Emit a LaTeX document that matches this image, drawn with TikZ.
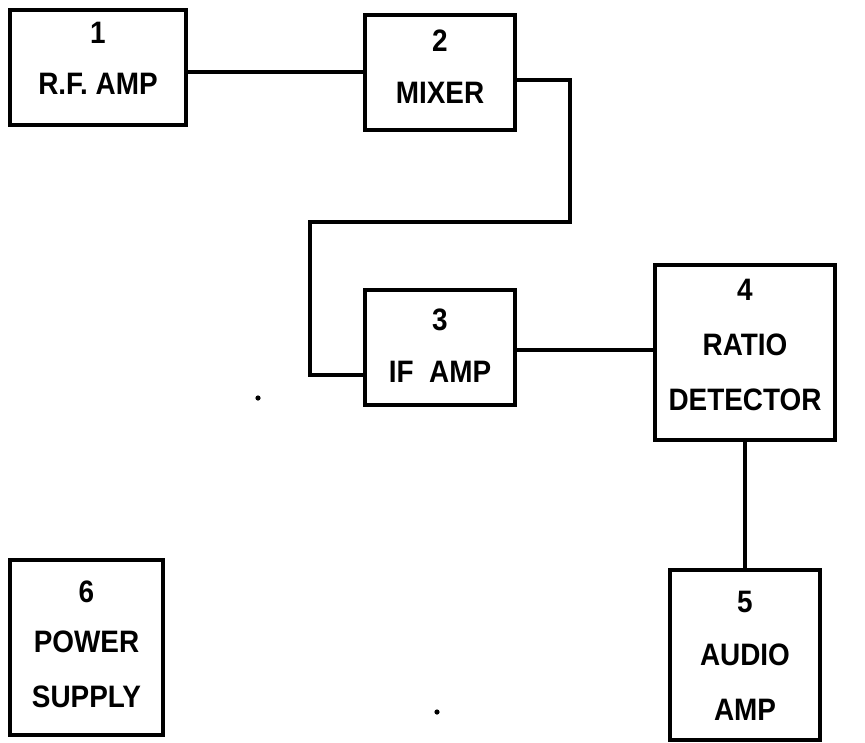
\documentclass[tikz,border=0pt]{standalone}
\usepackage{fontspec}
\setmainfont{Liberation Sans}[FakeStretch=0.9]
\begin{document}
\begin{tikzpicture}[x=1pt,y=-1pt,
  blk/.style={draw, line width=4pt, rectangle, inner sep=0pt},
  lbl/.style={font=\bfseries\fontsize{31}{52}\selectfont, align=center, inner sep=0pt},
  wire/.style={line width=3.6pt}]
\useasboundingbox (0,0) rectangle (865,742);
% boxes
\node[blk, minimum width=176pt, minimum height=115pt] (b1) at (98,67.5) {};
\node[blk, minimum width=150pt, minimum height=115pt] (b2) at (440,72.5) {};
\node[blk, minimum width=150pt, minimum height=115pt] (b3) at (440,347.5) {};
\node[blk, minimum width=180pt, minimum height=175pt] (b4) at (745,352.5) {};
\node[blk, minimum width=150pt, minimum height=170pt] (b5) at (745,655) {};
\node[blk, minimum width=153pt, minimum height=175pt] (b6) at (86.5,647.5) {};
% labels
\node[lbl] (t1a) at (98,33) {1};
\node[lbl] (t1b) at (98,84) {R.F.\ AMP};
\node[lbl] (t2a) at (440,41) {2};
\node[lbl] (t2b) at (440,93) {MIXER};
\node[lbl] (t3a) at (440,320) {3};
\node[lbl] (t3b) at (440,372) {IF\ \ AMP};
\node[lbl] (t4a) at (745,290) {4};
\node[lbl] (t4b) at (745,345) {RATIO};
\node[lbl] (t4c) at (745,400) {DETECTOR};
\node[lbl] (t5a) at (745,602) {5};
\node[lbl] (t5b) at (745,655) {AUDIO};
\node[lbl] (t5c) at (745,710) {AMP};
\node[lbl] (t6a) at (86.5,592) {6};
\node[lbl] (t6b) at (86.5,642) {POWER};
\node[lbl] (t6c) at (86.5,697) {SUPPLY};
% connectors
\coordinate (p1) at (570,222);
\coordinate (p2) at (310,375);
\draw[wire] (b1.east |- 0,72) -- (b2.west |- 0,72);
\draw[wire] (b2.east |- 0,80) -| (p1) -| (p2) -- (b3.west |- p2);
\draw[wire] (b3.east |- 0,350) -- (b4.west |- 0,350);
\draw[wire] (b4.south) -- (b5.north);
% specks
\fill (258,398) circle (2.6pt);
\fill (437,712) circle (2.6pt);
\end{tikzpicture}
\end{document}
